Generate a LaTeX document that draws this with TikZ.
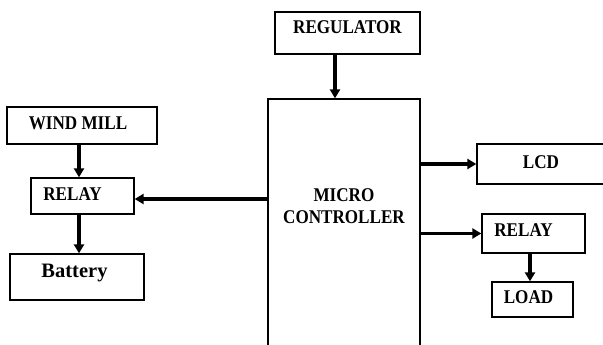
\documentclass[tikz,border=0pt]{standalone}
\usepackage{fontspec}
\setmainfont{Liberation Serif}
\usetikzlibrary{arrows.meta}
\begin{document}
\begin{tikzpicture}[x=1pt,y=-1pt,
  blk/.style={draw=black,line width=1.3pt,inner sep=0pt,
    minimum width=#1},
  lbl/.style={font=\fontsize{18}{22}\selectfont\bfseries},
  arr/.style={line width=3.2pt,-{Triangle[length=9pt,width=10pt]}}]
\clip (0,0) rectangle (603,345);
\fill[white] (0,0) rectangle (603,345);
% boxes
\node[blk=145pt,minimum height=42pt,label={[lbl,yshift=6pt]center:\scalebox{0.95}[1.08]{REGULATOR}}] (reg) at (347.5,33) {};
\node[blk=152pt,minimum height=301pt,label={[lbl,align=center,yshift=43.5pt]center:\scalebox{0.95}[1.08]{MICRO}\\\scalebox{0.95}[1.08]{CONTROLLER}}] (mc) at (344,249.5) {};
\node[blk=150pt,minimum height=37pt,label={[lbl,xshift=-4pt,yshift=2.5pt]center:\scalebox{0.95}[1.08]{WIND MILL}}] (wm) at (82,125.5) {};
\node[blk=103pt,minimum height=36pt,label={[lbl,xshift=-10pt,yshift=2pt]center:\scalebox{0.95}[1.08]{RELAY}}] (rl) at (82.5,196) {};
\node[blk=134pt,minimum height=46pt,label={[font=\fontsize{20.5}{24}\selectfont\bfseries,xshift=-2.5pt,yshift=4.5pt]center:Battery}] (bat) at (77,277) {};
\node[blk=135pt,minimum height=40pt] (lcd) at (544.5,164) {};
\node[lbl] (lcdt) at (541,162) {\scalebox{0.95}[1.08]{LCD}};
\node[blk=103pt,minimum height=39pt,label={[lbl,xshift=-10pt,yshift=3.5pt]center:\scalebox{0.95}[1.08]{RELAY}}] (rr) at (533.5,233.5) {};
\node[blk=81pt,minimum height=35pt,label={[lbl,xshift=-4pt,yshift=2.5pt]center:\scalebox{0.95}[1.08]{LOAD}}] (ld) at (532.5,299.5) {};
% connectors
\draw[arr] ([xshift=-12.5pt]reg.south) -- ([xshift=-12.5pt]reg.south |- mc.north);
\draw[arr] ([xshift=-3pt]wm.south) -- ([xshift=-3pt]wm.south |- rl.north);
\draw[arr] ([xshift=-3.5pt]rl.south) -- ([xshift=-3.5pt]rl.south |- bat.north);
\draw[arr] ([yshift=-3pt]mc.west |- rl.east) -- ([yshift=-3pt]rl.east);
\draw[arr] (mc.east |- lcd.west) -- (lcd.west);
\draw[arr] (mc.east |- rr.west) -- (rr.west);
\draw[arr] ([xshift=-3.5pt]rr.south) -- ([xshift=-3.5pt]rr.south |- ld.north);
\end{tikzpicture}
\end{document}
